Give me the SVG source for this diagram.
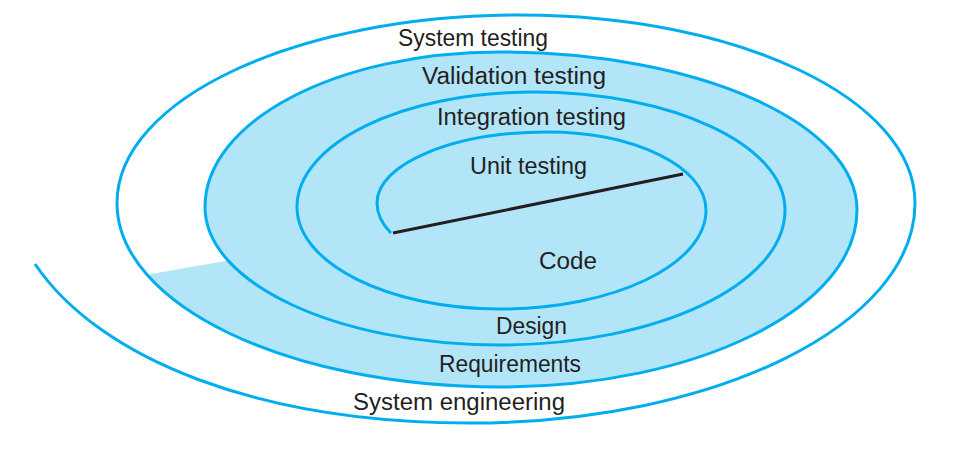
<svg xmlns="http://www.w3.org/2000/svg" width="966" height="464" viewBox="0 0 966 464">
  <style>
    .spiral { fill: none; stroke: #00aeef; stroke-width: 3; stroke-linecap: butt; }
    .shade { fill: #b3e5f9; stroke: none; }
    .axis { stroke: #231f20; stroke-width: 3; }
    .label { font-family: "Liberation Sans", Arial, sans-serif; font-size: 23px; fill: #231f20; }
  </style>
  <rect width="966" height="464" fill="#ffffff"/>

  <!-- shaded inner region of the spiral -->
  <path class="shade" d="M147.1,274.8 C205.25,340.9 341.4,387 500,387 C697,387 857,308 857,210 C857,123 697,52 500,52 C337,52 205,121 205,207 C205,226 213.25,244.1 228.2,260.6 Z"/>

  <g id="connectors">
    <!-- spiral, from the outer start inward -->
    <path id="spiral" class="spiral" d="M35,264 C100,360 260,423 470,423 C716,423 915,324.5 915,203 C915,99 738,15 520,15 C297,15 117,99 117,203 C117,305 288.5,387 500,387 C697,387 857,308 857,210 C857,123 697,52 500,52 C337,52 205,121 205,207 C205,283 337,345 500,345 C657.4,345 785,284.6 785,210 C785,144.8 672.2,92 533,92 C402.7,92 297,143.5 297,207 C297,263.3 387.9,309 500,309 C613.8,309 706,264.7 706,210 C706,166.9 634.8,132 547,132 C453.1,132 377,163.8 377,203 C377,215 383,225 391,233"/>
    <line class="axis" x1="393" y1="233" x2="683" y2="174"/>
  </g>

  <g id="system-testing"><text class="label" x="398" y="46" textLength="150" lengthAdjust="spacingAndGlyphs">System testing</text></g>
  <g id="validation-testing"><text class="label" x="422" y="84" textLength="184" lengthAdjust="spacingAndGlyphs">Validation testing</text></g>
  <g id="integration-testing"><text class="label" x="437" y="125" textLength="189" lengthAdjust="spacingAndGlyphs">Integration testing</text></g>
  <g id="unit-testing"><text class="label" x="470" y="174" textLength="117" lengthAdjust="spacingAndGlyphs">Unit testing</text></g>
  <g id="code"><text class="label" x="539" y="269" textLength="58" lengthAdjust="spacingAndGlyphs">Code</text></g>
  <g id="design"><text class="label" x="496" y="334" textLength="71" lengthAdjust="spacingAndGlyphs">Design</text></g>
  <g id="requirements"><text class="label" x="439" y="372" textLength="142" lengthAdjust="spacingAndGlyphs">Requirements</text></g>
  <g id="system-engineering"><text class="label" x="353" y="410" textLength="212" lengthAdjust="spacingAndGlyphs">System engineering</text></g>
</svg>
